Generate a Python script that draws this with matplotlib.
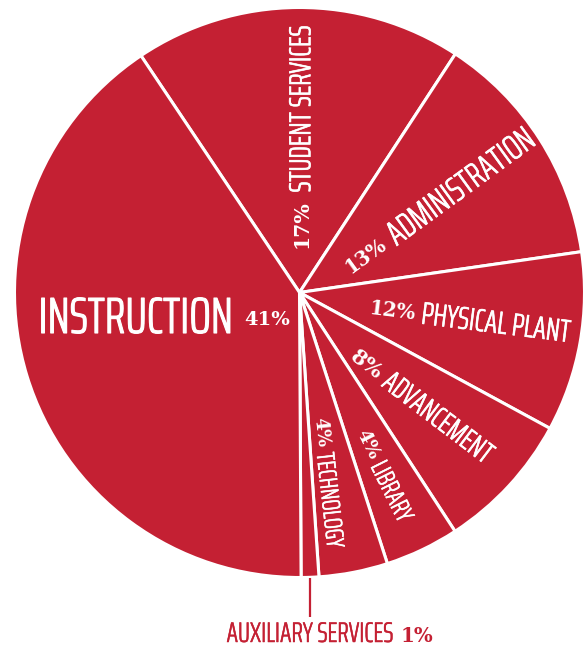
import numpy as np
import matplotlib
matplotlib.use('Agg')
import matplotlib.pyplot as plt
import matplotlib.patheffects as pe
from matplotlib import font_manager as fm
from matplotlib.font_manager import FontProperties
from matplotlib.textpath import TextPath
from matplotlib.ft2font import FT2Font

# ---------------- data ----------------
categories = ['STUDENT SERVICES', 'ADMINISTRATION', 'PHYSICAL PLANT', 'ADVANCEMENT',
              'LIBRARY', 'TECHNOLOGY', 'AUXILIARY SERVICES', 'INSTRUCTION']
pct_labels = ['17%', '13%', '12%', '8%', '4%', '4%', '1%', '41%']
# wedge sizes as drawn in the graphic (percent of the circle)
slice_share = [18.6, 13.5, 10.2, 7.9, 4.2, 3.9, 1.0, 40.7]

# ---------------- style ----------------
RED = '#C42033'
W, H = 584, 647
CX, CY, R = 299.5, 647 - 292.5, 285
START = 123.8
DPI = 100


def pick_narrow():
    best = None
    for f in fm.fontManager.ttflist:
        n = f.name
        if any(k in n for k in ['Mono', 'CJK', 'Serif', 'Symbol', 'Math', 'Emoji']):
            continue
        if not any(k in n for k in ['Sans', 'Roboto', 'Lato', 'Inter', 'Open', 'Narrow', 'Condensed']):
            continue
        if f.style != 'normal':
            continue
        wt = f.weight
        if not isinstance(wt, (int, float)):
            wt = {'normal': 400, 'regular': 400, 'book': 400, 'medium': 500,
                  'light': 300, 'bold': 700}.get(str(wt).lower(), 400)
        if wt < 300 or wt > 500:
            continue
        try:
            ft = FT2Font(f.fname)
            if ft.get_char_index(ord('N')) == 0:
                continue
            prop = FontProperties(fname=f.fname)
            ext = TextPath((0, 0), 'INSTRUCTION', size=100, prop=prop).get_extents()
            ratio = ext.width / ext.height
        except Exception:
            continue
        if best is None or ratio < best[0]:
            best = (ratio, f.fname)
    return best[1] if best else None


fn = pick_narrow()
name_font = FontProperties(fname=fn) if fn else FontProperties(family='DejaVu Sans')
pct_font = FontProperties(family='DejaVu Serif', weight='bold')

fig = plt.figure(figsize=(W / DPI, H / DPI), dpi=DPI)
ax = fig.add_axes([0, 0, 1, 1])
ax.pie(slice_share, startangle=START, counterclock=False, colors=[RED] * len(slice_share),
       center=(CX, CY), radius=R,
       wedgeprops=dict(edgecolor='white', linewidth=2.2))
ax.set_xlim(0, W)
ax.set_ylim(0, H)
ax.set_aspect('equal')
ax.axis('off')

renderer = fig.canvas.get_renderer()


def text_width(s, prop, size):
    t = ax.text(0, 0, s, fontproperties=prop, size=size)
    w = t.get_window_extent(renderer).width
    t.remove()
    return w


def fit_size(s, prop, target):
    return 10 * target / text_width(s, prop, 10)


def cap_px(prop, size, s='H'):
    ext = TextPath((0, 0), s, size=size, prop=prop).get_extents()
    return ext.height * DPI / 72


def put(s, prop, size, start, rot, color, stroke):
    ph = np.deg2rad(rot)
    nv = np.array([np.sin(ph), -np.cos(ph)])
    p = np.asarray(start) + nv * cap_px(prop, size, s[0]) / 2
    effects = [pe.withStroke(linewidth=stroke, foreground=color)] if stroke else None
    ax.text(p[0], p[1], s, fontproperties=prop, size=size, color=color,
            rotation=rot, rotation_mode='anchor', ha='left', va='baseline',
            path_effects=effects)


# mid angles of the wedges
shares = np.array(slice_share)
cum = np.concatenate([[0], np.cumsum(shares)[:-1]])
mid = START - 360 * (cum + shares / 2) / shares.sum()

# label layout: (index, position-angle tweak, start radius, rotation tweak,
#                pct length px, name length px, gap px, name stroke)
layout = [
    (0, -0.35, 45, -0.35, 48, 167, 7, 0.45),
    (1, -5.0, 53, 3.5, 46, 174, 7, 0.45),
    (2, -1.0, 71, 3.0, 47, 150, 6, 0.45),
    (3, -5.0, 81, 5.5, 35, 131, 6, 0.45),
    (4, -1.0, 151, 1.0, 31, 64, 5, 0.35),
    (5, -1.0, 127, -4.5, 30, 96, 5, 0.35),
]
for i, padj, r0, radj, plen, nlen, gap, stk in layout:
    th = np.deg2rad(mid[i] + padj)
    rot = mid[i] + radj
    u = np.array([np.cos(np.deg2rad(rot)), np.sin(np.deg2rad(rot))])
    start = np.array([CX, CY]) + r0 * np.array([np.cos(th), np.sin(th)])
    ps = fit_size(pct_labels[i], pct_font, plen)
    ns = fit_size(categories[i], name_font, nlen)
    put(pct_labels[i], pct_font, ps, start, rot, 'white', 0)
    put(categories[i], name_font, ns, start + u * (plen + gap), rot, 'white', stk)

# INSTRUCTION (horizontal)
ins = fit_size(categories[7], name_font, 194)
ax.text(CX - 67.5, CY - 40.5, categories[7], fontproperties=name_font, size=ins, color='white',
        ha='right', va='baseline', path_effects=[pe.withStroke(linewidth=0.8, foreground='white')])
ps = fit_size(pct_labels[7], pct_font, 46)
ax.text(CX - 55, CY - 32.5, pct_labels[7], fontproperties=pct_font, size=ps, color='white',
        ha='left', va='baseline')

# AUXILIARY SERVICES leader + label outside the pie
am = np.deg2rad(mid[6])
lx = CX + R * np.cos(am)
ly = CY + R * np.sin(am)
ax.plot([lx, lx], [ly - 1, 30], color=RED, lw=1.6, solid_capstyle='butt')
ns_aux = fit_size(categories[6], name_font, 167)
ps_aux = fit_size(pct_labels[6], pct_font, 33)
x0 = lx - 83.5
ax.text(x0, 5, categories[6], fontproperties=name_font, size=ns_aux, color=RED,
        ha='left', va='baseline', path_effects=[pe.withStroke(linewidth=0.35, foreground=RED)])
ax.text(x0 + 174, 5, pct_labels[6], fontproperties=pct_font, size=ps_aux, color=RED,
        ha='left', va='baseline')

fig.savefig('out.png', dpi=DPI)
